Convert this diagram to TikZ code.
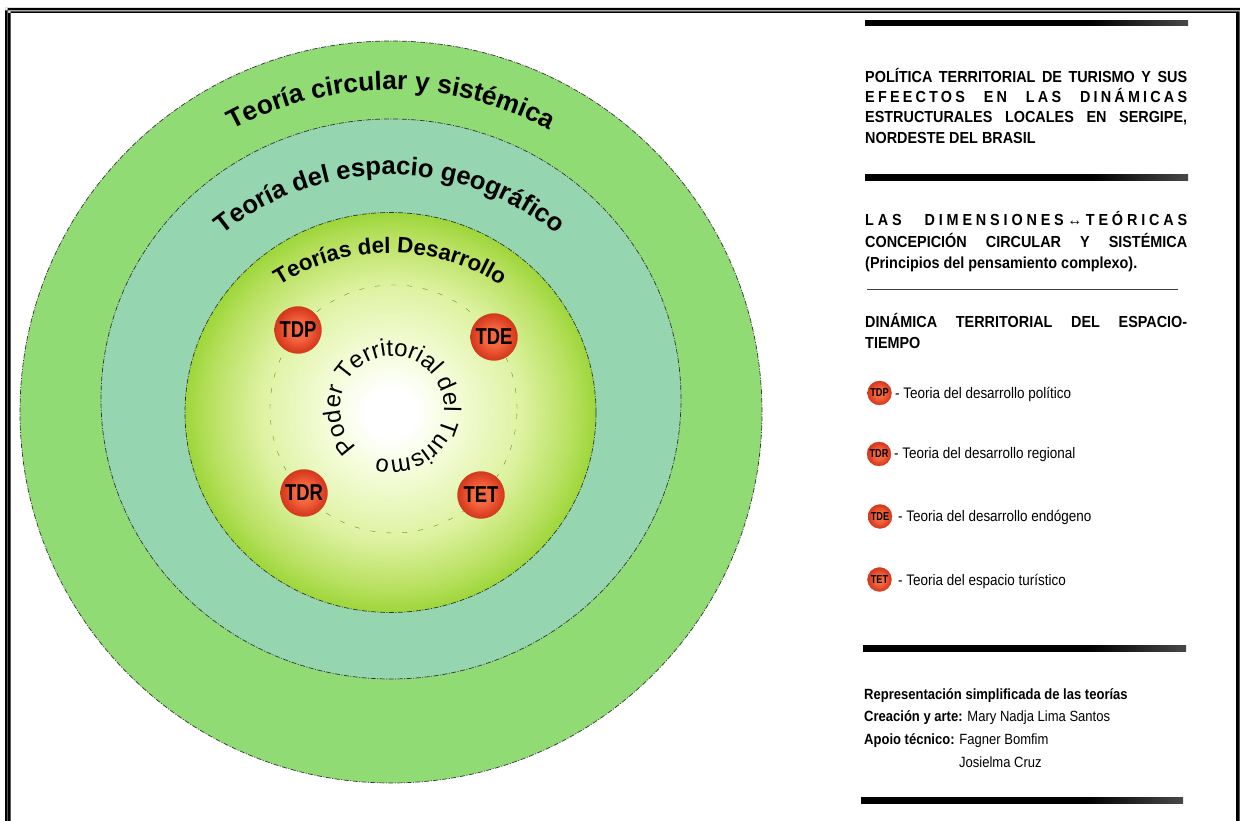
\documentclass[tikz,border=0pt]{standalone}
\usepackage{fontspec}
\setmainfont{Liberation Sans}
\newfontfamily\headfont[FakeStretch=0.9]{Liberation Sans}
\newfontfamily\narrowfont[FakeStretch=0.88]{Liberation Sans}
\newfontfamily\ballfont[FakeStretch=0.8]{Liberation Sans}
\usetikzlibrary{decorations.text}
\definecolor{ringouter}{HTML}{90DB74}
\definecolor{ringmiddle}{HTML}{95D6B0}
\definecolor{leafedge}{HTML}{9DD63A}
\definecolor{leafdeep}{HTML}{B8E060}
\definecolor{leafmid}{HTML}{DDF2A0}
\definecolor{leafpale}{HTML}{F4FCD8}
\definecolor{ballcore}{HTML}{F4673F}
\definecolor{balledge}{HTML}{E04426}
\definecolor{balldark}{HTML}{D03A1C}
\definecolor{barend}{HTML}{484848}
\pgfdeclareradialshading{coreglow}{\pgfpoint{0bp}{0bp}}{color(0bp)=(white); color(3bp)=(white); color(8bp)=(leafpale); color(16bp)=(leafmid); color(22bp)=(leafdeep); color(25bp)=(leafedge); color(50bp)=(leafedge)}
\pgfdeclareradialshading{redball}{\pgfpoint{0bp}{0bp}}{color(0bp)=(ballcore); color(10bp)=(ballcore); color(20bp)=(balledge); color(25bp)=(balldark); color(50bp)=(balldark)}
\pgfdeclarehorizontalshading{barfade}{100bp}{color(0bp)=(black); color(60bp)=(black); color(75bp)=(barend); color(100bp)=(barend)}
\newcommand{\fitline}[1]{\makebox[322pt][s]{#1}}
\newcommand{\ringfont}{\fontsize{26.3}{26.3}\selectfont\bfseries}
\newcommand{\midringfont}{\fontsize{25.6}{25.6}\selectfont\bfseries}
\newcommand{\innerringfont}{\fontsize{22.3}{22.3}\selectfont\bfseries}
\newcommand{\corefont}{\fontsize{24}{24}\selectfont}
\tikzset{
  ringline/.style={draw=black!80,line width=0.7pt,dash pattern=on 5pt off 1.5pt on 1pt off 1.5pt},
  bigball/.style={circle,shading=redball,draw=balldark,line width=0.3pt,minimum size=47pt,inner sep=0pt,font=\ballfont\fontsize{23}{23}\selectfont\bfseries},
  smallball/.style={circle,shading=redball,draw=balldark,line width=0.3pt,minimum size=24pt,inner sep=0pt,font=\ballfont\fontsize{11.5}{11.5}\selectfont\bfseries},
  headtext/.style={anchor=base west,inner sep=0pt,font=\headfont\fontsize{16}{16}\selectfont\bfseries},
  legendtext/.style={anchor=west,inner sep=0pt,font=\narrowfont\fontsize{15.3}{15.3}\selectfont},
  credittext/.style={anchor=west,inner sep=0pt,font=\narrowfont\fontsize{14.8}{14.8}\selectfont},
  rulebar/.style={shading=barfade}
}
\begin{document}
\begin{tikzpicture}[x=1pt,y=1pt]
  \useasboundingbox (0,0) rectangle (1240,821);
  % frame, open at the foot
  \fill[black] (5,0) rectangle (7.5,813) (5,813) rectangle (1240,810.5);
  \fill[black] (8,0) rectangle (10.5,809.5) (8,809.5) rectangle (1236,808) (1236,0) rectangle (1239.5,809.5);
  % rings
  \draw[ringline,fill=ringouter] (391,409) circle (371);
  \draw[ringline,fill=ringmiddle] (391,422) ellipse (290 and 280);
  \draw[ringline,shading=coreglow] (390.5,408.5) ellipse (205.5 and 200);
  \draw[black!35!leafedge,line width=0.4pt,dash pattern=on 5pt off 11pt] (393.5,412) ellipse (123.5 and 124);
  % ring titles
  \path[decorate,decoration={text along path,text align=center,text={|\ringfont|Teoría circular y sistémica}}]
    ([shift={(155:335)}]391,396) arc (155:25:335);
  \path[decorate,decoration={text along path,text align=center,text={|\midringfont|Teoría del espacio geográfico}}]
    ([shift={(150:264)}]390,382) arc (150:30:264);
  \path[decorate,decoration={text along path,text align=center,text={|\innerringfont|Teorías del Desarrollo}}]
    ([shift={(150:206)}]390,362) arc (150:30:206);
  \path[decorate,decoration={text along path,text align=center,text={|\corefont|Poder Territorial del Turismo}}]
    ([shift={(226:52)}]392,413) arc (226:-105:52);
  % balls on the ring
  \node[bigball] (TDP) at (298,491) {TDP};
  \node[bigball] (TDE) at (494,484) {TDE};
  \node[bigball] (TDR) at (304,328) {TDR};
  \node[bigball] (TET) at (481,326) {TET};
  % right column
  \shade[rulebar] (865,795) rectangle (1188,800.5);
  \shade[rulebar] (865,640) rectangle (1188,646);
  \fill[black!75] (867,530.5) rectangle (1178,531.5);
  \shade[rulebar] (863,169.5) rectangle (1186,175.5);
  \shade[rulebar] (861,17) rectangle (1183,23);
  \node[headtext] (titleA) at (865,738) {\fitline{POLÍTICA TERRITORIAL DE TURISMO Y SUS}};
  \node[headtext] (titleB) at (865,718) {\fitline{\addfontfeature{LetterSpace=20}EFEECTOS EN LAS DINÁMICAS}};
  \node[headtext] (titleC) at (865,698) {\fitline{ESTRUCTURALES LOCALES EN SERGIPE,}};
  \node[headtext] (titleD) at (865,677.5) {NORDESTE DEL BRASIL};
  \node[headtext] (dimA) at (865,595.5) {\fitline{\addfontfeature{LetterSpace=24}LAS DIMENSIONES↔TEÓRICAS}};
  \node[headtext] (dimB) at (865,573) {\fitline{CONCEPICIÓN CIRCULAR Y SISTÉMICA}};
  \node[headtext] (dimC) at (865,552) {(Principios del pensamiento complexo).};
  \node[headtext] (dynA) at (865,493) {\fitline{DINÁMICA TERRITORIAL DEL ESPACIO-}};
  \node[headtext] (dynB) at (865,472) {TIEMPO};
  % legend
  \node[smallball] (keyTDP) at (879.5,428) {TDP};
  \node[smallball] (keyTDR) at (879,367) {TDR};
  \node[smallball] (keyTDE) at (880,304.5) {TDE};
  \node[smallball] (keyTET) at (879.5,241.5) {TET};
  \node[legendtext] (textTDP) at (895,427) {- Teoria del desarrollo político};
  \node[legendtext] (textTDR) at (894,366) {- Teoria del desarrollo regional};
  \node[legendtext] (textTDE) at (898,304) {- Teoria del desarrollo endógeno};
  \node[legendtext] (textTET) at (898,240) {- Teoria del espacio turístico};
  % credits
  \node[credittext] (creditA) at (864,125) {\bfseries Representación simplificada de las teorías};
  \node[credittext] (creditB) at (864,103) {\textbf{Creación y arte:} Mary Nadja Lima Santos};
  \node[credittext] (creditC) at (864,80) {\textbf{Apoio técnico:} Fagner Bomfim};
  \node[credittext] (creditD) at (959,59) {Josielma Cruz};
\end{tikzpicture}
\end{document}
